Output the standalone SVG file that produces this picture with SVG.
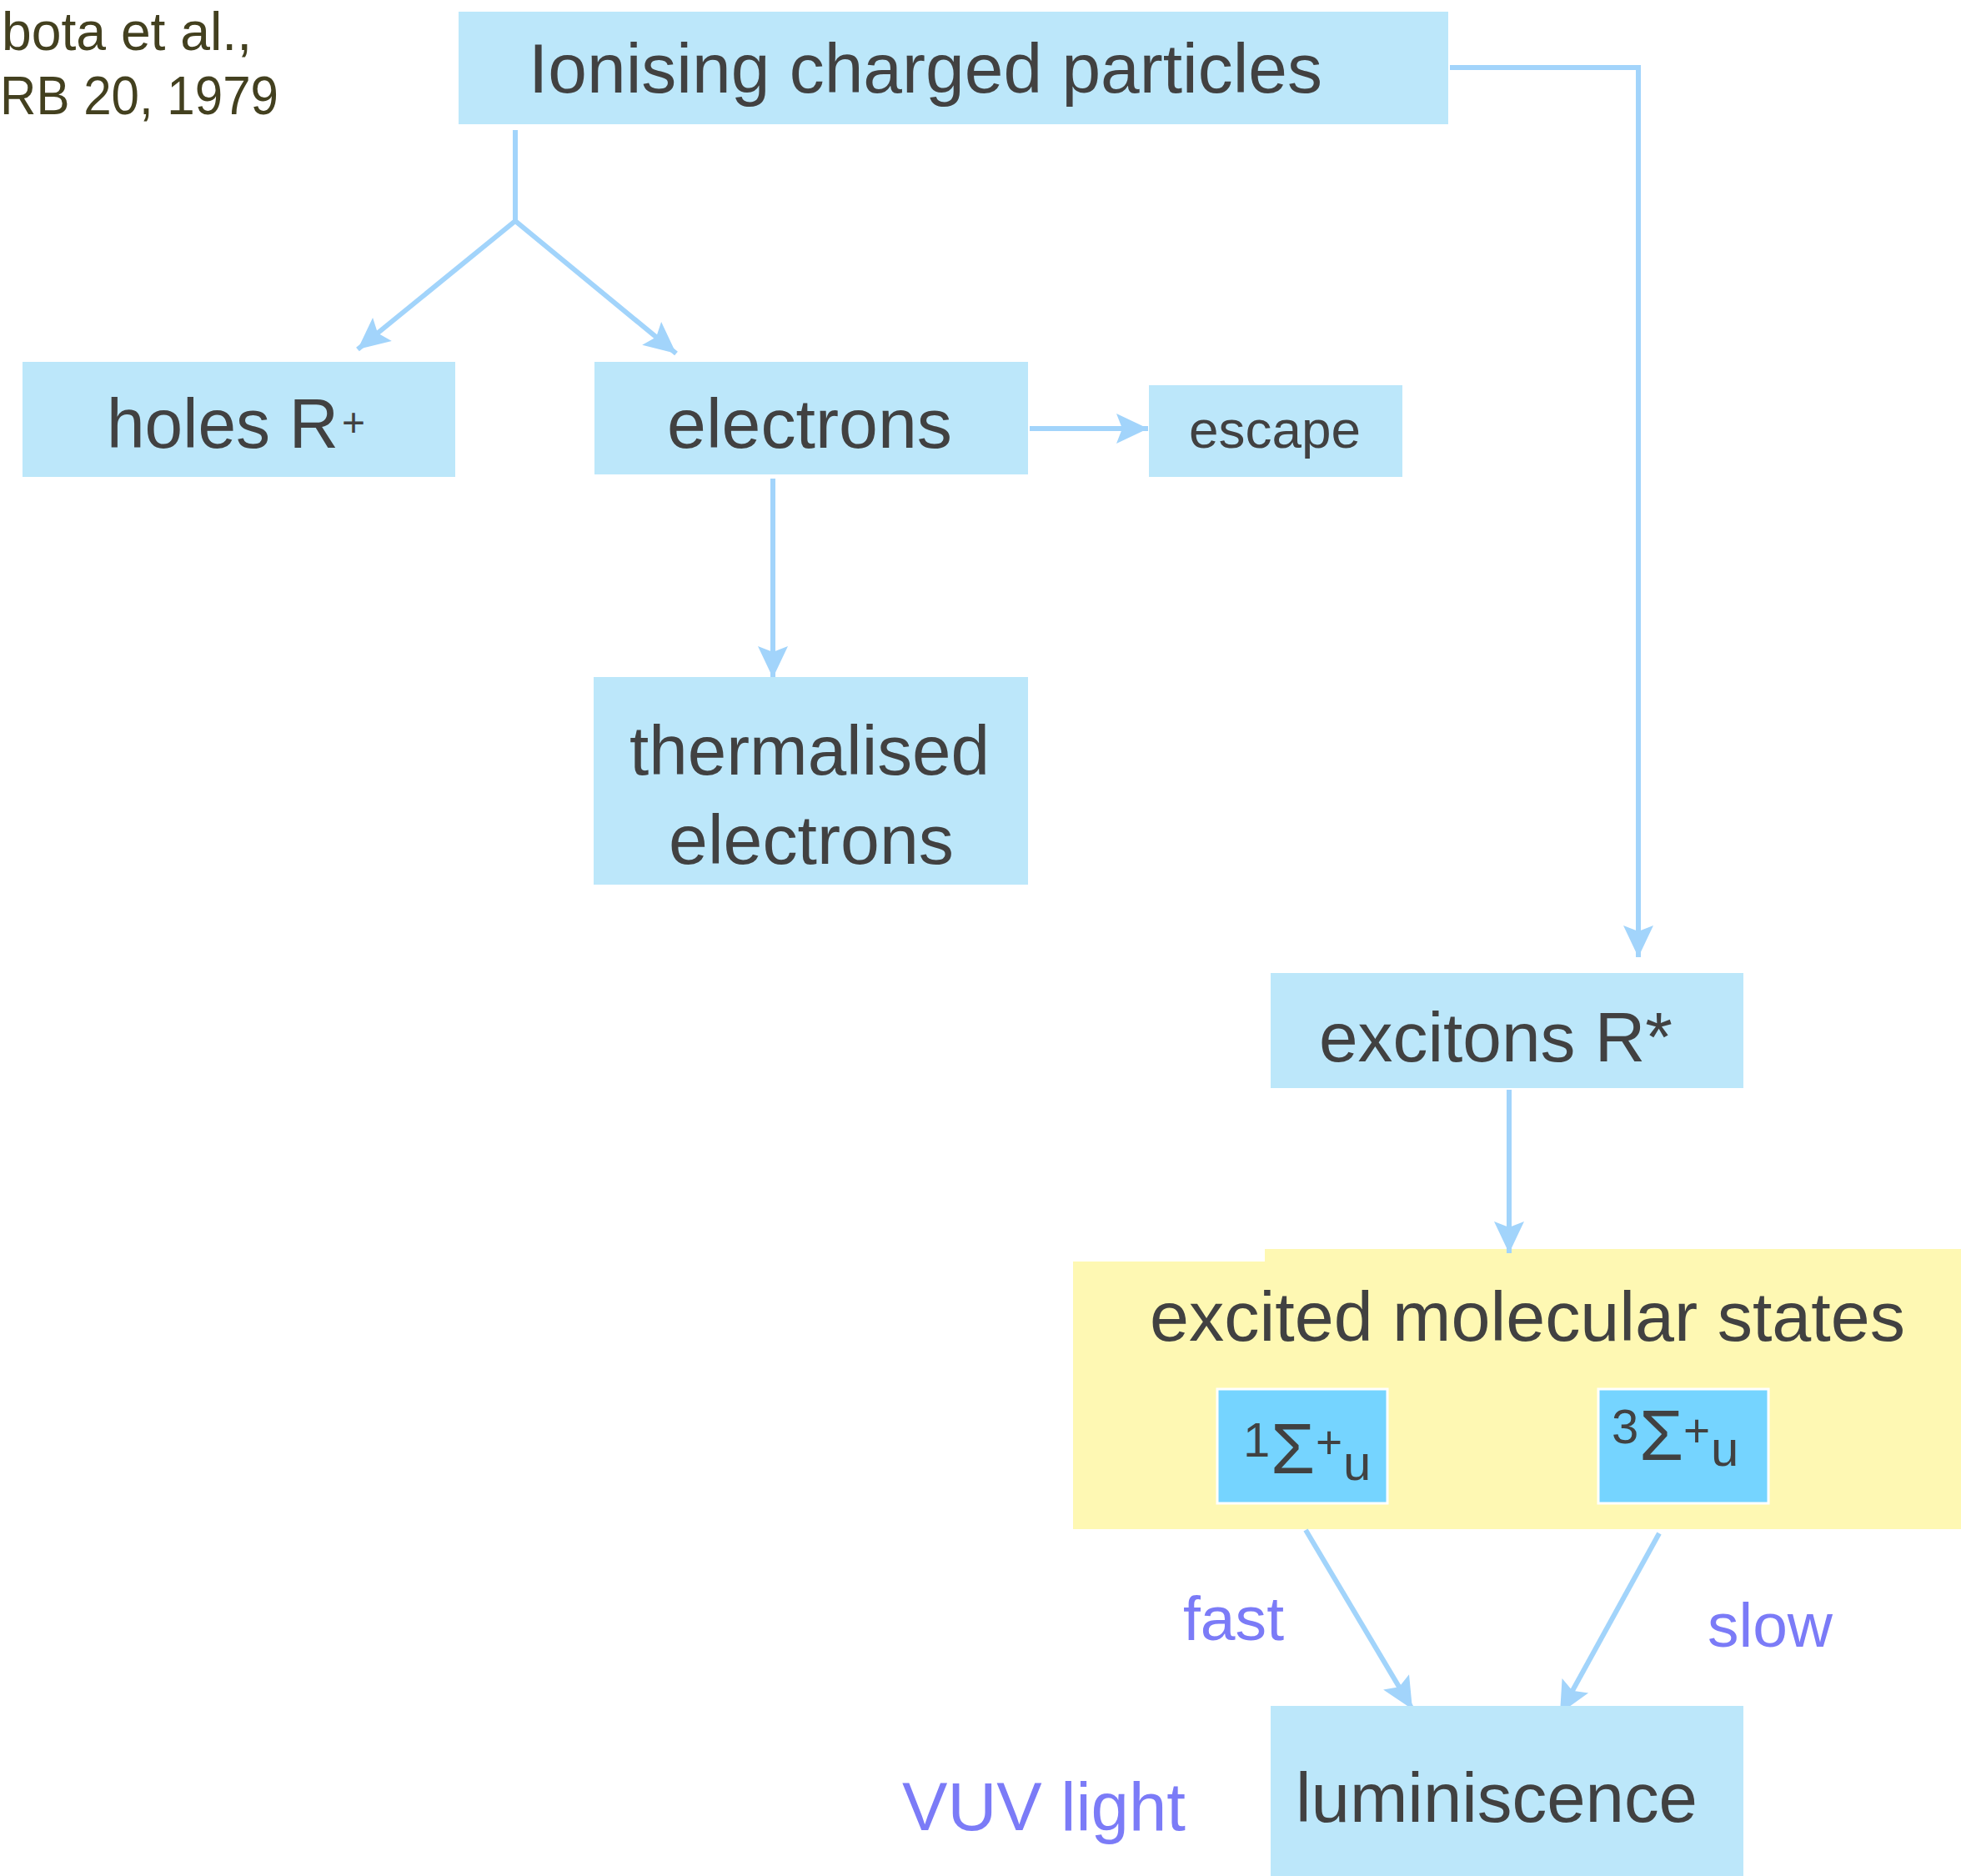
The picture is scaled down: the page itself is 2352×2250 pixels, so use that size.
<svg xmlns="http://www.w3.org/2000/svg" width="2352" height="2250" viewBox="0 0 2352 2250">
<style>
.box{fill:#BCE7FA;}
.sig{fill:#75D4FF;stroke:#FFFFFF;stroke-width:3;}
.lbl{font-family:"Liberation Sans",Arial,sans-serif;fill:#414141;font-size:84px;}
.note{font-family:"Liberation Sans",Arial,sans-serif;fill:#7B7BF7;}
.ref{font-family:"Liberation Sans",Arial,sans-serif;fill:#43401F;font-size:64px;}
.conn{fill:none;stroke:#A2D4FB;stroke-width:6;}
</style>
<defs>
<marker id="arr" markerUnits="userSpaceOnUse" markerWidth="44" markerHeight="44" viewBox="-42 -22 44 44" refX="0" refY="0" orient="auto">
<path d="M0,0 L-38,-18 L-31,0 L-38,18 Z" fill="#A2D4FB"/>
</marker>
</defs>
<rect width="2352" height="2250" fill="#FFFFFF"/>

<g id="reference">
<text class="ref" x="2" y="60" textLength="300" lengthAdjust="spacingAndGlyphs">bota et al.,</text>
<text class="ref" x="0" y="137" textLength="334" lengthAdjust="spacingAndGlyphs">RB 20, 1979</text>
</g>

<g id="excited-molecular-states">
<path d="M1287,1513 H1517 V1498 H2352 V1834 H1287 Z" fill="#FEF8B3"/>
<text class="lbl" x="1379" y="1608" textLength="906" lengthAdjust="spacingAndGlyphs">excited molecular states</text>
</g>

<g id="connectors">
<polyline class="conn" points="618,156 618,265"/>
<line class="conn" x1="618" y1="265" x2="429" y2="419" marker-end="url(#arr)"/>
<line class="conn" x1="618" y1="265" x2="811" y2="424" marker-end="url(#arr)"/>
<polyline class="conn" points="1739,81 1965,81 1965,1148" marker-end="url(#arr)"/>
<line class="conn" x1="1235" y1="514" x2="1377" y2="514" marker-end="url(#arr)"/>
<line class="conn" x1="927" y1="574" x2="927" y2="813" marker-end="url(#arr)"/>
<line class="conn" x1="1810" y1="1307" x2="1810" y2="1503" marker-end="url(#arr)"/>
<line class="conn" x1="1566" y1="1835" x2="1694" y2="2050" marker-end="url(#arr)"/>
<line class="conn" x1="1990" y1="1839" x2="1871" y2="2055" marker-end="url(#arr)"/>
</g>

<g id="ionising">
<rect class="box" x="550" y="14" width="1187" height="135"/>
<text class="lbl" x="634" y="111" textLength="952" lengthAdjust="spacingAndGlyphs">Ionising charged particles</text>
</g>

<g id="holes">
<rect class="box" x="27" y="434" width="519" height="138"/>
<text class="lbl" x="128" y="537" textLength="278" lengthAdjust="spacingAndGlyphs">holes R</text>
<text class="lbl" x="410" y="523" style="font-size:48px">+</text>
</g>

<g id="electrons">
<rect class="box" x="713" y="434" width="520" height="135"/>
<text class="lbl" x="800" y="537" textLength="342" lengthAdjust="spacingAndGlyphs">electrons</text>
</g>

<g id="escape">
<rect class="box" x="1378" y="462" width="304" height="110"/>
<text class="lbl" x="1426" y="537" style="font-size:63px" textLength="206" lengthAdjust="spacingAndGlyphs">escape</text>
</g>

<g id="thermalised">
<rect class="box" x="712" y="812" width="521" height="249"/>
<text class="lbl" x="755" y="929" textLength="432" lengthAdjust="spacingAndGlyphs">thermalised</text>
<text class="lbl" x="802" y="1036" textLength="342" lengthAdjust="spacingAndGlyphs">electrons</text>
</g>

<g id="excitons">
<rect class="box" x="1524" y="1167" width="567" height="138"/>
<text class="lbl" x="1582" y="1273" textLength="424" lengthAdjust="spacingAndGlyphs">excitons R*</text>
</g>

<g id="singlet">
<rect class="sig" x="1460" y="1666" width="204" height="137"/>
<text class="lbl"><tspan x="1491" y="1747" style="font-size:58px">1</tspan><tspan x="1524" y="1767" style="font-size:86px">Σ</tspan><tspan x="1578" y="1749" style="font-size:55px">+</tspan><tspan x="1611" y="1775" style="font-size:60px">u</tspan></text>
</g>

<g id="triplet">
<rect class="sig" x="1917" y="1666" width="204" height="137"/>
<text class="lbl"><tspan x="1933" y="1731" style="font-size:58px">3</tspan><tspan x="1966" y="1751" style="font-size:86px">Σ</tspan><tspan x="2019" y="1735" style="font-size:55px">+</tspan><tspan x="2052" y="1758" style="font-size:60px">u</tspan></text>
</g>

<g id="luminiscence">
<rect class="box" x="1524" y="2046" width="567" height="210"/>
<text class="lbl" x="1554" y="2185" textLength="482" lengthAdjust="spacingAndGlyphs">luminiscence</text>
</g>

<g id="labels">
<text class="note" x="1419" y="1967" style="font-size:74px" textLength="121" lengthAdjust="spacingAndGlyphs">fast</text>
<text class="note" x="2048" y="1975" style="font-size:74px" textLength="150" lengthAdjust="spacingAndGlyphs">slow</text>
<text class="note" x="1082" y="2195" style="font-size:81px" textLength="340" lengthAdjust="spacingAndGlyphs">VUV light</text>
</g>
</svg>
